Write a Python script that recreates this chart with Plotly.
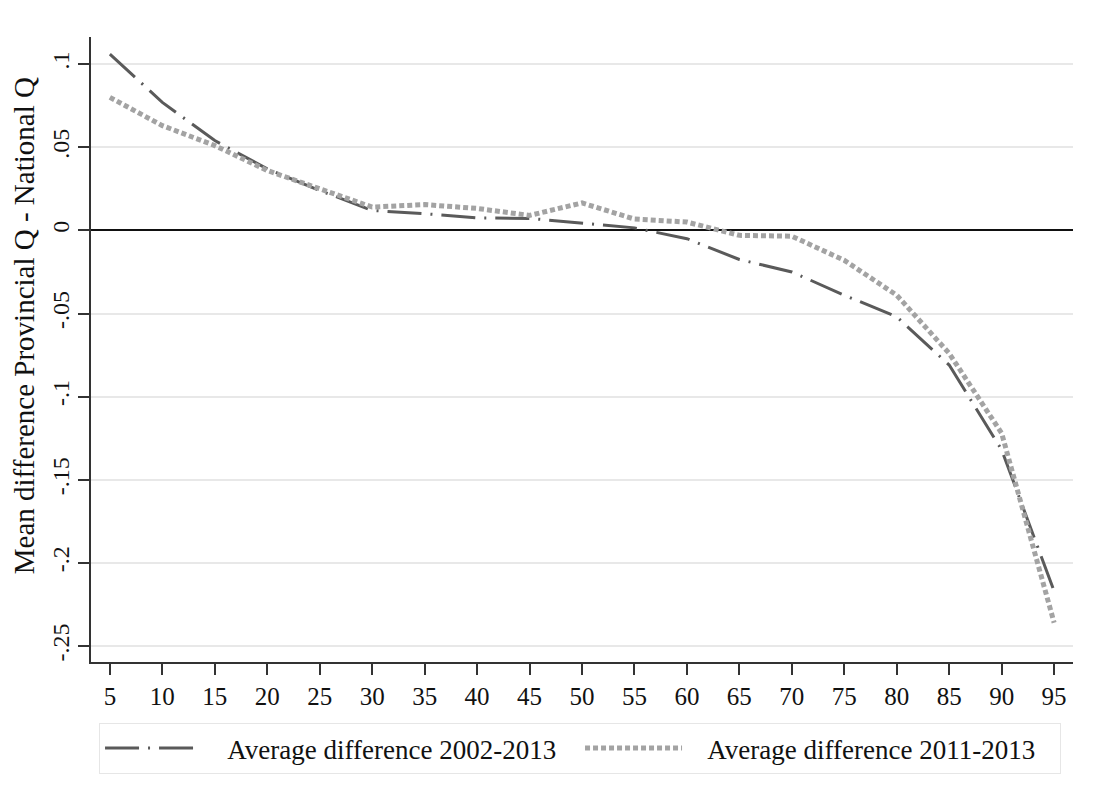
import plotly.graph_objects as go

# Percentile of the income distribution
percentiles = [5, 10, 15, 20, 25, 30, 35, 40, 45, 50, 55, 60, 65, 70, 75, 80, 85, 90, 95]

# Mean difference between provincial and national quantiles
diff_2002_2013 = [0.106, 0.077, 0.054, 0.037, 0.024, 0.012, 0.0100, 0.0075, 0.0072, 0.0045,
                  0.0015, -0.0050, -0.0175, -0.0250, -0.0390, -0.0520, -0.0810, -0.1320, -0.2170]
diff_2011_2013 = [0.080, 0.063, 0.051, 0.036, 0.025, 0.0140, 0.0155, 0.0132, 0.0090, 0.0165,
                  0.0068, 0.0050, -0.0030, -0.0035, -0.0180, -0.0390, -0.0740, -0.1220, -0.2360]

y_ticks = [-0.25, -0.2, -0.15, -0.1, -0.05, 0, 0.05, 0.1]
y_tick_text = ["-.25", "-.2", "-.15", "-.1", "-.05", "0", ".05", ".1"]

FONT = "Liberation Serif"
AXIS = "#333333"
PAD = "\u00a0" * 3  # gap between legend key and its label

fig = go.Figure()
fig.add_trace(go.Scatter(
    x=percentiles, y=diff_2002_2013, mode="lines",
    name=PAD + "Average difference 2002-2013",
    line=dict(color="#5a5a5a", width=3, dash="34px,9px,2px,9px"),
))
fig.add_trace(go.Scatter(
    x=percentiles, y=diff_2011_2013, mode="lines",
    name=PAD + "Average difference 2011-2013",
    line=dict(color="#a3a3a3", width=5, dash="5px,3px"),
))

fig.update_layout(
    width=1093, height=809,
    margin=dict(l=91, r=20, t=37, b=147),
    paper_bgcolor="white", plot_bgcolor="white",
    font=dict(family=FONT, color="#111111", size=25),
    showlegend=True,
    legend=dict(
        orientation="h", x=0.498, xanchor="center", y=-0.0976, yanchor="top",
        bordercolor="#e6e6e6", borderwidth=1,
        font=dict(family=FONT, size=27),
        itemwidth=97, entrywidth=368,
    ),
    annotations=[dict(
        text="Mean difference Provincial Q - National Q",
        xref="paper", yref="paper", x=-0.068, y=0.5376,
        xanchor="center", yanchor="middle", textangle=-90,
        showarrow=False, font=dict(family=FONT, size=29),
    )],
)

fig.update_xaxes(
    range=[3.2, 96.8], tickvals=percentiles, showgrid=False, zeroline=False,
    showline=True, linecolor=AXIS, linewidth=1.5,
    ticks="outside", ticklen=11, tickwidth=1.5, tickcolor=AXIS,
    tickfont=dict(family=FONT, size=25),
)
fig.update_yaxes(
    range=[-0.2596, 0.1163], tickvals=y_ticks, ticktext=y_tick_text, tickangle=-90,
    showgrid=True, gridcolor="#e8e8e8", gridwidth=1.5,
    zeroline=True, zerolinecolor="#111111", zerolinewidth=2,
    showline=True, linecolor=AXIS, linewidth=1.5,
    ticks="outside", ticklen=11, tickwidth=1.5, tickcolor=AXIS,
    tickfont=dict(family=FONT, size=24),
)

fig.write_html("out.html")
